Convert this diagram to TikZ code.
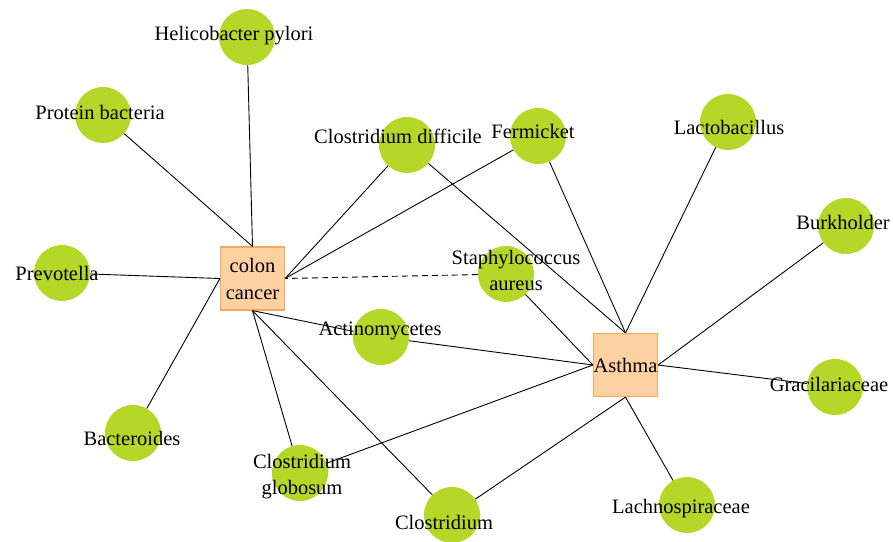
\documentclass[tikz,border=0pt]{standalone}
\usepackage{fontspec}
\setmainfont{Liberation Serif}
\definecolor{bact}{HTML}{B4D728}
\definecolor{disfill}{HTML}{FDD0A2}
\definecolor{disdraw}{HTML}{F8A85C}
\begin{document}
\begin{tikzpicture}[x=1pt,y=-1pt,
  bug/.style={circle,fill=bact,minimum size=56pt,inner sep=0pt},
  disease/.style={rectangle,fill=disfill,draw=disdraw,line width=1.2pt,minimum width=64pt,minimum height=63pt,inner sep=0pt,font=\fontsize{20.5}{27}\selectfont,align=center},
  lbl/.style={font=\fontsize{20.5}{26}\selectfont,align=center,inner sep=0pt},
  link/.style={draw=black,line width=0.9pt},
  weak/.style={link,dash pattern=on 6pt off 4pt}]
\useasboundingbox (0,0) rectangle (893,541);
% bacteria circles
\node[bug] (hp) at (247,37) {};
\node[bug] (pb) at (103,115) {};
\node[bug] (pv) at (62,273) {};
\node[bug] (bc) at (133,433) {};
\node[bug] (cd) at (407,145) {};
\node[bug] (fm) at (538,136) {};
\node[bug] (sa) at (506,274) {};
\node[bug] (ac) at (381,337) {};
\node[bug] (cg) at (300,473) {};
\node[bug] (cl) at (452,515) {};
\node[bug] (lb) at (728,122) {};
\node[bug] (bk) at (846,226) {};
\node[bug] (gr) at (835,387) {};
\node[bug] (ln) at (687,505) {};
% diseases
\node[disease] (cc) at (252.5,278.5) {colon\\cancer};
\node[disease] (as) at (625.5,365) {Asthma};
% links to colon cancer
\draw[link] (hp) -- (cc.north);
\draw[link] (pb) -- (cc.north);
\draw[link] (pv) -- (cc.west);
\draw[link] (bc) -- (cc.west);
\draw[link] (cd) -- (cc.east);
\draw[link] (fm) -- (cc.east);
\draw[weak] (sa) -- (cc.east);
\draw[link] (ac) -- (cc.south);
\draw[link] (cg) -- (cc.south);
\draw[link] (cl) -- (cc.south);
% links to asthma
\draw[link] (cd) -- (as.north);
\draw[link] (fm) -- (as.north);
\draw[link] (lb) -- (as.north);
\draw[link] (bk) -- (as.east);
\draw[link] (gr) -- (as.east);
\draw[link] (ln) -- (as.south);
\draw[link] (cl) -- (as.south);
\draw[link] (cg) -- (as.west);
\draw[link] (ac) -- (as.west);
\draw[link] (sa) -- (as.west);
% labels
\node[lbl] (thp) at (234,36) {Helicobacter pylori};
\node[lbl] (tpb) at (100,112) {Protein bacteria};
\node[lbl] (tpv) at (57,273) {Prevotella};
\node[lbl] (tbc) at (132,438) {Bacteroides};
\node[lbl] (tcd) at (398,136) {Clostridium difficile};
\node[lbl] (tfm) at (533,131) {Fermicket};
\node[lbl] (tsa) at (516,270) {Staphylococcus\\aureus};
\node[lbl] (tac) at (380,331) {Actinomycetes};
\node[lbl] (tcg) at (302,477) {Clostridium\\globosum};
\node[lbl] (tcl) at (444,522) {Clostridium};
\node[lbl] (tlb) at (729,127) {Lactobacillus};
\node[lbl] (tbk) at (843,222) {Burkholder};
\node[lbl] (tgr) at (829,384) {Gracilariaceae};
\node[lbl] (tln) at (681,509) {Lachnospiraceae};
\end{tikzpicture}
\end{document}
